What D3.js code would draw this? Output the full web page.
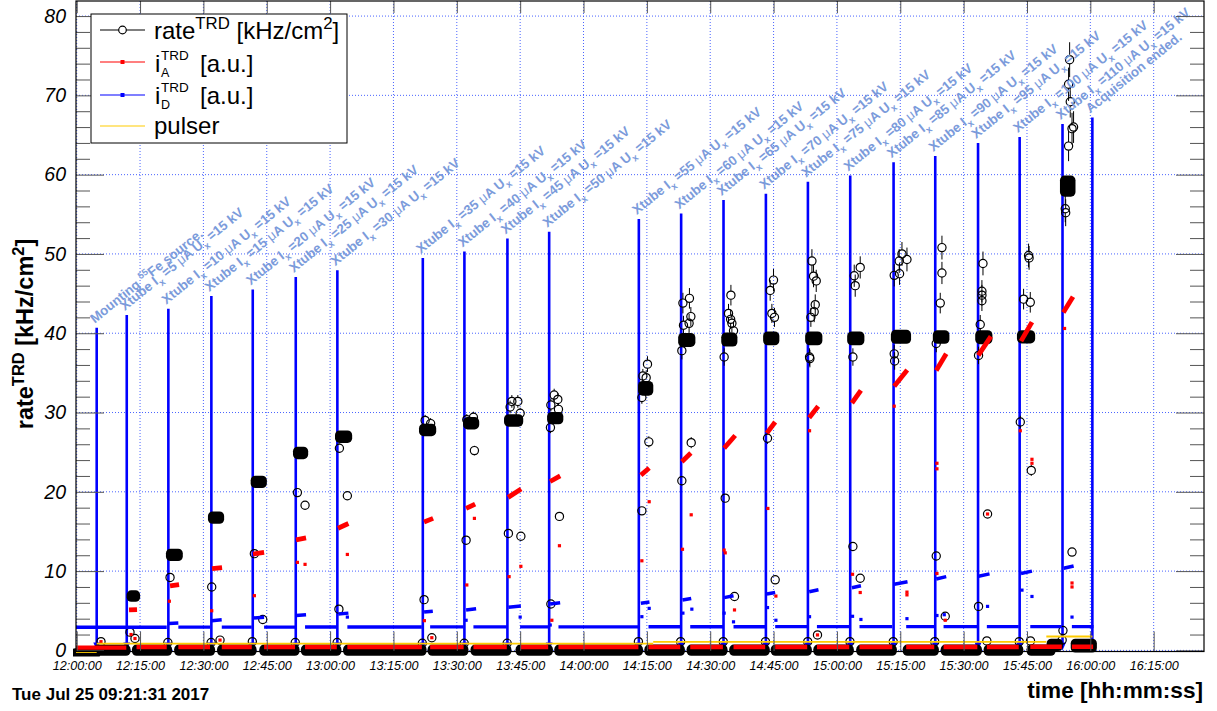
<!DOCTYPE html>
<html>
<head>
<meta charset="utf-8">
<script src="https://cdn.jsdelivr.net/npm/d3@7"></script>
<style>
  body { margin: 0; background: #fff; }
  svg { display: block; }
  text { white-space: pre; }
</style>
</head>
<body>
<svg id="chart" width="1217" height="711"></svg>
<script>
// ---------------------------------------------------------------------------
// TRD rate and current monitoring, X-ray tube current scan (25 Jul 2017)
// ---------------------------------------------------------------------------

// Axis tick labels
const timeTicks = ["12:00:00","12:15:00","12:30:00","12:45:00","13:00:00","13:15:00","13:30:00",
  "13:45:00","14:00:00","14:15:00","14:30:00","14:45:00","15:00:00","15:15:00","15:30:00",
  "15:45:00","16:00:00","16:15:00"];
const rateTicks = [0, 10, 20, 30, 40, 50, 60, 70, 80];

// Logbook entries: time of the entry, height of the marker arrow, text
const eventTimes = ["12:04:44","12:11:51","12:21:42","12:31:53","12:41:41","12:51:52","13:01:43",
  "13:21:57","13:31:48","13:41:59","13:51:52","14:13:06","14:23:07","14:33:09","14:43:11",
  "14:53:08","15:03:09","15:13:25","15:23:17","15:33:25","15:43:16","15:53:25","16:00:29"];
const eventTops = [40.7,42.3,43.1,44.7,45.5,47.1,47.95,49.5,50.3,51.95,52.8,54.4,55.1,56.8,57.6,
  59.1,59.9,61.55,62.35,64.0,64.75,66.4,67.2];
const eventLabels = [
  "Mounting ^{55}Fe source.",
  "Xtube I_{x} =5 #muA U_{x} =15 kV",
  "Xtube I_{x} =10 #muA U_{x} =15 kV",
  "Xtube I_{x} =15 #muA U_{x} =15 kV",
  "Xtube I_{x} =20 #muA U_{x} =15 kV",
  "Xtube I_{x} =25 #muA U_{x} =15 kV",
  "Xtube I_{x} =30 #muA U_{x} =15 kV",
  "Xtube I_{x} =35 #muA U_{x} =15 kV",
  "Xtube I_{x} =40 #muA U_{x} =15 kV",
  "Xtube I_{x} =45 #muA U_{x} =15 kV",
  "Xtube I_{x} =50 #muA U_{x} =15 kV",
  "Xtube I_{x} =55 #muA U_{x} =15 kV",
  "Xtube I_{x} =60 #muA U_{x} =15 kV",
  "Xtube I_{x} =65 #muA U_{x} =15 kV",
  "Xtube I_{x} =70 #muA U_{x} =15 kV",
  "Xtube I_{x} =75 #muA U_{x} =15 kV",
  "Xtube I_{x} =80 #muA U_{x} =15 kV",
  "Xtube I_{x} =85 #muA U_{x} =15 kV",
  "Xtube I_{x} =90 #muA U_{x} =15 kV",
  "Xtube I_{x} =95 #muA U_{x} =15 kV",
  "Xtube I_{x} =100 #muA U_{x} =15 kV",
  "Xtube I_{x} =110 #muA U_{x} =15 kV",
  "Acquisition ended."
];

// rate^TRD: stretches of densely packed readings [start, end, lowest, highest] in kHz/cm^2
const rateRuns = [
  ["11:59:40","12:04:30",-0.5,-0.3],
  ["12:05:00","12:11:40",-0.1,0.15],
  ["12:12:55","12:13:56",6.7,7.0],
  ["12:14:10","12:21:30",-0.1,0.15],
  ["12:22:13","12:24:02",11.85,12.25],
  ["12:24:10","12:31:40",-0.1,0.15],
  ["12:32:10","12:33:49",16.55,16.95],
  ["12:34:20","12:41:30",-0.1,0.15],
  ["12:42:17","12:43:56",21.05,21.45],
  ["12:44:20","12:51:40",-0.1,0.15],
  ["12:52:18","12:53:43",24.7,25.1],
  ["12:54:10","13:01:35",-0.1,0.15],
  ["13:02:15","13:04:08",26.75,27.15],
  ["13:04:10","13:21:45",-0.1,0.15],
  ["13:22:08","13:24:02",27.6,28.0],
  ["13:24:10","13:31:40",-0.1,0.15],
  ["13:32:34","13:34:13",28.45,28.85],
  ["13:34:20","13:41:50",-0.1,0.15],
  ["13:42:16","13:44:38",28.8,29.2],
  ["13:45:00","13:51:40",-0.1,0.15],
  ["13:52:28","13:54:08",29.1,29.5],
  ["13:54:10","14:13:00",-0.1,0.15],
  ["14:14:00","14:15:26",32.7,33.4],
  ["14:15:30","14:22:55",-0.1,0.15],
  ["14:23:30","14:25:24",38.85,39.45],
  ["14:25:30","14:33:00",-0.1,0.15],
  ["14:33:42","14:35:21",38.9,39.5],
  ["14:35:35","14:43:00",-0.1,0.15],
  ["14:43:37","14:45:17",39.05,39.65],
  ["14:45:25","14:52:58",-0.1,0.15],
  ["14:53:34","14:55:28",39.05,39.65],
  ["14:55:30","15:02:55",-0.1,0.15],
  ["15:03:31","15:05:25",39.05,39.65],
  ["15:05:40","15:13:06",-0.1,0.15],
  ["15:13:52","15:16:28",39.25,39.85],
  ["15:16:40","15:23:03",-0.1,0.15],
  ["15:23:48","15:25:33",39.25,39.8],
  ["15:25:40","15:33:15",-0.1,0.15],
  ["15:33:50","15:35:44",39.2,39.8],
  ["15:35:50","15:43:03",-0.1,0.15],
  ["15:43:43","15:45:51",39.3,39.8],
  ["15:46:00","15:50:40",-0.1,0.15],
  ["15:50:45","15:52:25",0.5,0.9],
  ["15:53:54","15:55:24",57.8,59.3],
  ["15:56:27","16:00:28",0.3,0.9]
];

// rate^TRD: isolated readings [time, value, error]
const rateScatter = [
  ["12:05:45",1.1,0.1],["12:12:37",2.3,0.2],["12:13:48",1.5,0.1],["12:22:06",9.2,0.3],
  ["12:31:58",8.0,0.3],["12:33:56",1.3,0.1],["12:42:04",12.2,0.4],["12:44:03",3.9,0.2],
  ["12:52:15",19.9,0.5],["12:54:04",18.3,0.5],["13:02:12",25.5,0.6],["13:04:05",19.5,0.5],
  ["13:02:05",5.2,0.2],["13:22:15",6.4,0.3],["13:22:30",29.0,0.7],["13:23:48",28.6,0.7],
  ["13:24:05",1.6,0.1],["13:32:22",29.1,0.7],["13:33:56",29.4,0.7],["13:34:10",25.2,0.6],
  ["13:32:12",13.9,0.4],["13:43:02",31.4,0.8],["13:44:27",31.4,0.8],["13:42:37",30.7,0.8],
  ["13:45:00",29.9,0.7],["13:42:13",14.75,0.4],["13:45:10",14.4,0.4],["13:53:03",32.2,0.8],
  ["13:53:55",31.65,0.8],["13:52:16",30.95,0.8],["13:54:04",30.4,0.8],["13:52:10",28.1,0.7],
  ["13:54:18",16.9,0.5],["13:52:16",5.85,0.2],["14:15:09",36.1,1.0],["14:14:03",34.6,0.9],
  ["14:14:50",34.4,0.9],["14:13:49",31.9,0.8],["14:15:28",26.3,0.7],["14:13:49",17.6,0.5],
  ["14:23:32",43.8,1.3],["14:25:05",44.4,1.3],["14:23:40",41.0,1.2],["14:25:25",42.1,1.2],
  ["14:25:00",41.25,1.2],["14:23:17",37.8,1.1],["14:25:30",26.2,0.7],["14:23:17",21.4,0.6],
  ["14:34:54",44.8,1.3],["14:34:20",42.5,1.2],["14:34:50",41.75,1.2],["14:35:08",41.25,1.2],
  ["14:35:31",40.3,1.2],["14:33:18",37.0,1.1],["14:33:33",19.2,0.5],["14:35:45",6.8,0.2],
  ["14:44:12",45.4,1.3],["14:44:59",46.7,1.4],["14:44:36",42.5,1.2],["14:45:13",42.0,1.2],
  ["14:43:34",26.75,0.7],["14:45:23",8.9,0.3],["14:54:05",49.1,1.5],["14:54:28",47.2,1.4],
  ["14:55:06",46.6,1.4],["14:54:52",43.6,1.3],["14:54:37",42.7,1.3],["14:53:50",42.0,1.2],
  ["14:53:31",37.0,1.1],["14:53:36",36.8,1.1],["14:55:24",1.95,0.1],["15:04:06",47.25,1.4],
  ["15:05:31",48.3,1.4],["15:04:20",46.0,1.4],["15:03:47",37.0,1.1],["15:03:47",13.1,0.4],
  ["15:05:31",9.1,0.3],["15:13:34",47.3,1.4],["15:14:50",47.5,1.4],["15:15:24",50.0,1.5],
  ["15:16:35",49.3,1.5],["15:14:45",49.1,1.5],["15:13:34",37.4,1.1],["15:13:40",36.5,1.1],
  ["15:24:52",50.8,1.5],["15:24:52",47.6,1.4],["15:24:28",43.8,1.3],["15:23:31",38.7,1.1],
  ["15:23:31",11.9,0.4],["15:25:39",4.3,0.2],["15:34:35",48.8,1.5],["15:34:20",45.3,1.4],
  ["15:34:20",44.8,1.3],["15:34:20",44.1,1.3],["15:33:56",41.1,1.2],["15:33:32",37.2,1.1],
  ["15:35:40",17.2,0.5],["15:33:32",5.55,0.2],["15:45:23",49.8,1.5],["15:45:30",49.5,1.5],
  ["15:44:12",44.3,1.3],["15:45:47",43.9,1.3],["15:43:25",28.8,0.8],["15:46:01",22.7,0.7],
  ["15:55:06",74.5,2.2],["15:54:51",71.4,2.1],["15:55:15",69.2,2.0],["15:55:40",65.8,2.0],
  ["15:56:02",66.0,2.0],["15:54:51",63.6,1.9],["15:54:04",55.7,1.7],["15:54:10",55.2,1.7],
  ["15:55:40",12.4,0.4],["15:53:31",2.5,0.1],
  ["12:21:35",1.0,0.1],["12:31:50",1.0,0.1],["12:41:35",1.1,0.1],["12:51:45",1.0,0.1],
  ["13:01:40",1.0,0.1],["13:21:50",0.9,0.1],["13:31:45",0.9,0.1],["13:41:55",0.9,0.1],
  ["14:13:00",1.1,0.1],["14:23:00",1.1,0.1],["14:33:05",1.1,0.1],["14:43:05",1.1,0.1],
  ["14:53:05",1.1,0.1],["15:03:05",1.1,0.1],["15:13:20",1.1,0.1],["15:23:10",1.1,0.1],
  ["15:35:30",1.2,0.1],["15:43:10",1.1,0.1],["15:45:50",1.2,0.1],["15:53:20",1.3,0.1]
];

// i_A^TRD: low level between exposures [start, end, value]
const anodeBase = [
  ["11:59:50","12:11:45",0.35],["12:14:10","12:21:19",0.42],["12:24:04","12:31:34",0.42],
  ["12:34:21","12:41:27",0.42],["12:44:22","12:51:42",0.42],["12:54:04","13:01:35",0.42],
  ["13:04:05","13:21:43",0.42],["13:23:41","13:31:37",0.42],["13:33:56","13:41:50",0.42],
  ["13:44:59","13:51:38",0.42],["13:54:04","14:13:00",0.42],["14:15:23","14:22:54",0.42],
  ["14:25:16","14:33:00",0.42],["14:35:31","14:43:01",0.42],["14:45:23","14:52:58",0.42],
  ["14:55:16","15:02:55",0.42],["15:05:21","15:13:06",0.42],["15:16:24","15:23:03",0.42],
  ["15:25:15","15:33:15",0.42],["15:35:30","15:43:03",0.42],["15:45:47","15:53:15",0.45],
  ["15:55:38","16:00:40",0.45]
];
// i_A^TRD: rising current during each exposure [start, end, first, last]
const anodeRamps = [
  ["12:12:23","12:14:17",5.1,5.15],["12:22:06","12:24:14",8.15,8.3],["12:32:03","12:34:25",10.3,10.45],
  ["12:41:45","12:44:22",12.15,12.35],["12:51:56","12:54:18",13.95,14.2],["13:01:53","13:04:20",15.4,16.0],
  ["13:22:15","13:24:23",16.2,16.65],["13:32:12","13:34:20",17.9,18.45],["13:42:09","13:45:14",19.3,20.35],
  ["13:52:06","13:54:28",21.3,22.0],["14:13:35","14:15:33",22.1,23.0],["14:23:17","14:25:25",23.8,24.9],
  ["14:33:18","14:35:55",25.5,27.1],["14:43:25","14:45:23",27.4,28.8],["14:53:26","14:55:34",29.35,30.8],
  ["15:03:33","15:05:41",31.2,32.8],["15:13:34","15:16:39",33.3,35.35],["15:23:31","15:25:53",35.3,37.4],
  ["15:33:28","15:36:28",37.2,39.6],["15:43:35","15:46:11",39.0,41.4],["15:53:36","15:55:54",42.6,44.6]
];
// i_A^TRD: isolated readings [time, value]
const anodeScatter = [
  ["12:05:45",1.1],["12:13:48",1.5],["12:21:56",6.2],["12:12:52",2.0],["12:31:58",5.0],["12:33:56",1.3],
  ["12:42:04",6.9],["12:52:15",11.1],["12:54:04",10.85],["13:04:05",12.1],["13:22:19",3.75],
  ["13:24:05",1.6],["13:34:10",16.65],["13:32:22",8.25],["13:45:10",10.6],["13:42:23",9.3],
  ["13:54:18",13.2],["13:52:30",3.8],["14:15:33",18.75],["14:13:49",11.3],["14:25:30",17.1],
  ["14:23:26",12.75],["14:33:33",12.3],["14:33:18",12.65],["14:35:45",5.1],["14:43:39",17.9],
  ["14:45:33",6.85],["14:53:31",27.7],["14:55:24",1.95],["15:03:42",9.6],["15:05:31",7.3],
  ["15:13:34",30.8],["15:16:35",7.35],["15:16:35",7.0],["15:23:41",23.6],["15:23:41",22.9],
  ["15:23:41",9.7],["15:25:39",3.8],["15:35:40",17.2],["15:43:25",27.7],["15:46:11",24.1],
  ["15:46:11",23.6],["15:53:54",40.6],["15:55:40",8.5],["15:55:40",8.0]
];

// i_D^TRD: dark level between exposures [start, end, value]
const driftBase = [
  ["11:59:50","12:21:19",2.92],["12:24:04","12:31:34",2.93],["12:34:21","12:41:27",2.94],
  ["12:44:22","12:51:42",2.94],["12:54:04","13:01:35",2.95],["13:04:05","13:21:43",2.95],
  ["13:23:41","13:31:37",2.96],["13:33:56","13:41:50",2.96],["13:44:59","13:51:38",2.97],
  ["13:54:04","14:13:00",2.97],["14:15:23","14:22:54",2.98],["14:25:16","14:33:08",2.98],
  ["14:35:31","14:43:01",2.98],["14:45:23","14:52:58",2.99],["14:55:16","15:02:55",2.99],
  ["15:05:21","15:13:06",2.99],["15:16:24","15:23:03",3.0],["15:25:15","15:33:15",3.0],
  ["15:35:30","15:43:03",3.0],["15:45:47","15:53:15",3.0],["15:55:38","16:00:46",3.0]
];
// i_D^TRD: level during each exposure [start, end, first, last]
const driftSteps = [
  ["12:21:45","12:24:04",3.38,3.45],["12:31:58","12:34:20",3.75,3.85],["12:41:50","12:44:22",4.08,4.18],
  ["12:51:56","12:54:18",4.4,4.5],["13:01:57","13:04:20",4.6,4.7],["13:22:15","13:24:19",4.85,4.95],
  ["13:32:12","13:34:34",5.1,5.25],["13:42:13","13:45:10",5.45,5.6],["13:52:06","13:54:28",5.85,6.0],
  ["14:13:35","14:15:37",5.95,6.1],["14:23:26","14:25:30",6.35,6.55],["14:33:18","14:35:31",6.65,6.9],
  ["14:43:25","14:45:23",7.1,7.3],["14:53:26","14:55:38",7.4,7.65],["15:03:33","15:05:41",7.9,8.15],
  ["15:13:34","15:16:43",8.35,8.65],["15:23:31","15:25:53",9.0,9.3],["15:33:32","15:36:08",9.35,9.65],
  ["15:43:35","15:46:11",9.7,10.0],["15:53:41","15:56:03",10.35,10.65]
];
// i_D^TRD: isolated readings [time, value]
const driftScatter = [
  ["13:04:05",4.2],["13:32:12",3.8],["13:45:00",4.2],["13:52:07",3.2],["14:13:49",4.25],
  ["14:15:33",5.3],["14:25:39",5.2],["14:23:32",4.7],["14:33:18",4.7],["14:35:31",3.6],
  ["14:43:34",5.4],["14:45:33",3.8],["14:53:31",4.25],["15:05:41",3.9],["15:03:42",4.3],
  ["15:16:35",4.0],["15:25:25",4.5],["15:35:40",5.55],["15:46:11",6.8],["15:55:40",4.2],
  ["15:43:49",7.6],["15:23:41",4.4]
];

// pulser level [start, end, value]
const pulserRuns = [
  ["11:59:50","12:04:44",-0.2],["12:04:44","14:16:30",0.85],
  ["14:16:30","15:49:35",1.08],["15:49:35","16:00:30",1.75]
];

// ---------------------------------------------------------------------------
const FONT = "'Liberation Sans', Arial, Helvetica, sans-serif";
const parseT = d3.timeParse("%H:%M:%S");
const svg = d3.select("#chart");

const x = d3.scaleTime()
  .domain([parseT("11:59:50"), parseT("16:26:55")])
  .range([76, 1204]);
const y = d3.scaleLinear()
  .domain([-0.14, 81.9])
  .range([651.5, 1]);

const [x0, x1] = x.range();
const [yb, yt] = y.range();

// markers may spill a few pixels below the frame, as in the original output
svg.append("defs").append("clipPath").attr("id", "frame")
  .append("rect").attr("x", x0 - 3).attr("y", yt).attr("width", x1 - x0 + 3).attr("height", yb - yt + 5);

// dotted grid
const grid = svg.append("g").attr("stroke", "#4a64ff").attr("stroke-width", 1)
  .attr("stroke-dasharray", "1,2");
grid.selectAll(".gx").data(timeTicks).join("line")
  .attr("x1", d => x(parseT(d))).attr("x2", d => x(parseT(d)))
  .attr("y1", yt).attr("y2", yb);
grid.selectAll(".gy").data(rateTicks).join("line")
  .attr("x1", x0).attr("x2", x1)
  .attr("y1", d => y(d)).attr("y2", d => y(d));

const plot = svg.append("g").attr("clip-path", "url(#frame)");

// logbook arrows
const evt = eventTimes.map((t, i) => ({ t: parseT(t), top: eventTops[i], label: eventLabels[i] }));
plot.append("g").selectAll("line").data(evt).join("line")
  .attr("x1", d => x(d.t)).attr("x2", d => x(d.t))
  .attr("y1", d => y(d.top)).attr("y2", y(0) - 4)
  .attr("stroke", "#0000ff").attr("stroke-width", 2.6);
plot.append("g").selectAll("path").data(evt).join("path")
  .attr("d", d => {
    const cx = x(d.t), cy = y(0);
    return `M${cx - 3.4},${cy - 8}L${cx + 3.4},${cy - 8}L${cx},${cy}Z`;
  })
  .attr("fill", "#0000ff");

// rate^TRD dense stretches
const R = 4.6;
plot.append("g").selectAll("rect").data(rateRuns).join("rect")
  .attr("x", d => x(parseT(d[0])) - R)
  .attr("y", d => y(d[3]) - R)
  .attr("width", d => x(parseT(d[1])) - x(parseT(d[0])) + 2 * R)
  .attr("height", d => y(d[2]) - y(d[3]) + 2 * R)
  .attr("rx", R).attr("ry", R)
  .attr("fill", "#000");

// rate^TRD isolated readings with error bars
const rs = plot.append("g");
const MR = 4.1;
rs.selectAll(".eu").data(rateScatter.filter(d => y(d[1]) - y(d[1] + d[2]) > MR)).join("line")
  .attr("x1", d => x(parseT(d[0]))).attr("x2", d => x(parseT(d[0])))
  .attr("y1", d => y(d[1] + d[2])).attr("y2", d => y(d[1]) - MR)
  .attr("stroke", "#000").attr("stroke-width", 1);
rs.selectAll(".ed").data(rateScatter.filter(d => y(d[1] - d[2]) - y(d[1]) > MR)).join("line")
  .attr("x1", d => x(parseT(d[0]))).attr("x2", d => x(parseT(d[0])))
  .attr("y1", d => y(d[1]) + MR).attr("y2", d => y(d[1] - d[2]))
  .attr("stroke", "#000").attr("stroke-width", 1);
rs.selectAll("circle").data(rateScatter).join("circle")
  .attr("cx", d => x(parseT(d[0]))).attr("cy", d => y(d[1])).attr("r", MR)
  .attr("fill", "none").attr("stroke", "#000").attr("stroke-width", 1.2);

// i_A^TRD
const ia = plot.append("g").attr("stroke", "#ff0000");
ia.selectAll(".b").data(anodeBase).join("line")
  .attr("x1", d => x(parseT(d[0]))).attr("x2", d => x(parseT(d[1])))
  .attr("y1", d => y(d[2])).attr("y2", d => y(d[2]))
  .attr("stroke-width", 4.4);
ia.selectAll(".r").data(anodeRamps).join("line")
  .attr("x1", d => x(parseT(d[0]))).attr("x2", d => x(parseT(d[1])))
  .attr("y1", d => y(d[2])).attr("y2", d => y(d[3]))
  .attr("stroke-width", 4.8);
plot.append("g").selectAll("rect").data(anodeScatter).join("rect")
  .attr("x", d => x(parseT(d[0])) - 1.6).attr("y", d => y(d[1]) - 1.6)
  .attr("width", 3.2).attr("height", 3.2).attr("fill", "#ff0000");

// i_D^TRD
const id = plot.append("g").attr("stroke", "#0000ff");
id.selectAll(".b").data(driftBase).join("line")
  .attr("x1", d => x(parseT(d[0]))).attr("x2", d => x(parseT(d[1])))
  .attr("y1", d => y(d[2])).attr("y2", d => y(d[2]))
  .attr("stroke-width", 3.3);
id.selectAll(".s").data(driftSteps).join("line")
  .attr("x1", d => x(parseT(d[0]))).attr("x2", d => x(parseT(d[1])))
  .attr("y1", d => y(d[2])).attr("y2", d => y(d[3]))
  .attr("stroke-width", 3.5);
plot.append("g").selectAll("rect").data(driftScatter).join("rect")
  .attr("x", d => x(parseT(d[0])) - 1.6).attr("y", d => y(d[1]) - 1.6)
  .attr("width", 3.2).attr("height", 3.2).attr("fill", "#0000ff");

// pulser
plot.append("g").selectAll("line").data(pulserRuns).join("line")
  .attr("x1", d => x(parseT(d[0]))).attr("x2", d => x(parseT(d[1])))
  .attr("y1", d => y(d[2])).attr("y2", d => y(d[2]))
  .attr("stroke", "#ffcc00").attr("stroke-width", 1.8);

// rich text: ^{..} superscript, _{..} subscript, #mu greek mu
function richText(sel, str, size) {
  const parts = str.split(/(\^\{[^}]*\}|_\{[^}]*\}|#mu)/).filter(s => s.length);
  let shift = 0;
  parts.forEach(p => {
    let txt, fs = size, target = 0, weight = null;
    if (p.startsWith("^{")) { txt = p.slice(2, -1); fs = size * 0.7; target = -size * 0.4; }
    else if (p.startsWith("_{")) { txt = p.slice(2, -1); fs = size * 0.72; target = size * 0.32; }
    else if (p === "#mu") { txt = "\u03bc"; weight = "normal"; }
    else { txt = p; }
    const t = sel.append("tspan").attr("font-size", fs).text(txt);
    if (target - shift !== 0) t.attr("dy", target - shift);
    shift = target;
    if (weight) t.attr("font-weight", weight);
  });
}

// logbook labels
const labels = svg.append("g")
  .attr("font-family", FONT).attr("font-weight", "bold").attr("fill", "#7b9bdb");
evt.forEach(d => {
  const t = labels.append("text")
    .attr("transform", `translate(${x(d.t) - 2},${y(d.top) - 4}) rotate(-39)`)
    .attr("font-size", 13.3);
  richText(t, d.label, 13.3);
});

// axes and frame
const axes = svg.append("g").attr("font-family", FONT);
const tickTimes = timeTicks.map(parseT);

const bottom = axes.append("g").attr("transform", `translate(0,${yb})`)
  .call(d3.axisBottom(x).tickValues(tickTimes).tickFormat(d3.timeFormat("%H:%M:%S"))
    .tickSize(-20).tickPadding(10));
bottom.selectAll("text").attr("font-size", 12.6).attr("font-style", "italic").attr("fill", "#000");

axes.append("g").attr("transform", `translate(0,${yt})`)
  .call(d3.axisTop(x).tickValues(tickTimes).tickFormat("").tickSize(-12));

const left = axes.append("g").attr("transform", `translate(${x0},0)`)
  .call(d3.axisLeft(y).tickValues(rateTicks).tickFormat(d3.format("d")).tickSize(-28).tickPadding(10));
left.selectAll("text").attr("font-size", 19.5).attr("font-style", "italic").attr("fill", "#000");

const minorRate = d3.range(0, 81, 2).filter(v => v % 10 !== 0);
axes.append("g").attr("transform", `translate(${x0},0)`)
  .call(d3.axisLeft(y).tickValues(minorRate).tickFormat("").tickSize(-14));
axes.append("g").attr("transform", `translate(${x1},0)`)
  .call(d3.axisRight(y).tickValues(rateTicks).tickFormat("").tickSize(-28));
axes.append("g").attr("transform", `translate(${x1},0)`)
  .call(d3.axisRight(y).tickValues(minorRate).tickFormat("").tickSize(-14));

axes.selectAll(".domain").remove();
axes.selectAll(".tick line").attr("stroke", "#555").attr("stroke-width", 1);

svg.append("rect").attr("x", x0).attr("y", yt).attr("width", x1 - x0).attr("height", yb - yt)
  .attr("fill", "none").attr("stroke", "#000").attr("stroke-width", 1.2);

// legend
const lg = svg.append("g").attr("font-family", FONT);
lg.append("rect").attr("x", 91).attr("y", 14).attr("width", 256).attr("height", 129)
  .attr("fill", "#fff").attr("stroke", "#000").attr("stroke-width", 1);
const legendRows = [
  { color: "#000", cy: 30 },
  { color: "#ff0000", cy: 62 },
  { color: "#0000ff", cy: 95 },
  { color: "#ffcc00", cy: 126 }
];
legendRows.forEach(r => {
  lg.append("line").attr("x1", 100).attr("x2", 145).attr("y1", r.cy).attr("y2", r.cy)
    .attr("stroke", r.color).attr("stroke-width", 1.2);
});
lg.append("circle").attr("cx", 122.5).attr("cy", 30).attr("r", 3.8)
  .attr("fill", "#fff").attr("stroke", "#000").attr("stroke-width", 1.2);
lg.append("rect").attr("x", 120.5).attr("y", 60).attr("width", 4).attr("height", 4).attr("fill", "#ff0000");
lg.append("rect").attr("x", 120.5).attr("y", 93).attr("width", 4).attr("height", 4).attr("fill", "#0000ff");

const t1 = lg.append("text").attr("x", 154).attr("y", 39).attr("font-size", 24);
richText(t1, "rate^{TRD} [kHz/cm^{2}]", 24);

// i with stacked sub/superscript, one text element per entry
[["A", 72], ["D", 104]].forEach(([sub, base]) => {
  const t = lg.append("text").attr("x", 155).attr("y", base).attr("font-size", 24);
  t.append("tspan").text("i");
  t.append("tspan").attr("x", 161).attr("dy", -12).attr("font-size", 13.5).text("TRD");
  t.append("tspan").attr("x", 161).attr("dy", 16.5).attr("font-size", 12.5).text(sub);
  t.append("tspan").attr("x", 200).attr("dy", -4.5).text("[a.u.]");
});
lg.append("text").attr("x", 154).attr("y", 133.5).attr("font-size", 24).text("pulser");

// titles
const yTitle = svg.append("text")
  .attr("transform", "translate(33,334) rotate(-90)")
  .attr("text-anchor", "middle").attr("font-family", FONT).attr("font-weight", "bold")
  .attr("font-size", 23.5);
richText(yTitle, "rate^{TRD} [kHz/cm^{2}]", 23.5);

svg.append("text").attr("x", 1203).attr("y", 698).attr("text-anchor", "end")
  .attr("font-family", FONT).attr("font-weight", "bold").attr("font-size", 22.6)
  .text("time [hh:mm:ss]");

svg.append("text").attr("x", 12).attr("y", 700)
  .attr("font-family", FONT).attr("font-weight", "bold").attr("font-size", 17)
  .text("Tue Jul 25 09:21:31 2017");
</script>
</body>
</html>
